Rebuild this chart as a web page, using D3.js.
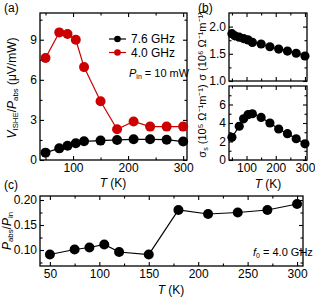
<!DOCTYPE html>
<html>
<head>
<meta charset="utf-8">
<script src="https://cdn.jsdelivr.net/npm/d3@7"></script>
<style>
  body { margin: 0; background: #fff; }
  text { font-family: "Liberation Sans", Arial, sans-serif; fill: #000; }
</style>
</head>
<body>
<svg id="fig" width="315" height="297"></svg>
<script>
// temperatures (K)
var temps = [50, 75, 90, 105, 120, 150, 180, 210, 240, 270, 300];
// (a) V_ISHE / P_abs (uV/mW)
var v76 = [0.55, 0.87, 1.07, 1.25, 1.4, 1.45, 1.5, 1.55, 1.55, 1.52, 1.38];
var v40 = [7.63, 9.55, 9.43, 9.0, 6.95, 4.4, 2.3, 2.88, 2.5, 2.5, 2.5];
// (b) conductivity
var sigmaT = [50, 60, 75, 90, 105, 120, 150, 180, 210, 240, 270, 300];
var sigma = [1.87, 1.83, 1.805, 1.78, 1.756, 1.71, 1.68, 1.63, 1.586, 1.55, 1.51, 1.46];
var sigmaS = [2.45, 3.65, 4.45, 4.9, 5.0, 4.6, 4.0, 3.35, 2.85, 2.3, 1.75];
// (c) P_abs / P_in
var pRatio = [0.091, 0.101, 0.105, 0.111, 0.096, 0.091, 0.180, 0.172, 0.175, 0.180, 0.192];

var svg = d3.select("#fig");
var red = "#cc0000";
var fs = 12;

function panel(o) {
	var x = d3.scaleLinear().domain(o.xd).range([o.x0, o.x1]);
	var y = d3.scaleLinear().domain(o.yd).range([o.y1, o.y0]);
	var g = svg.append("g");

	function ax(gen, scale, vals, size, labels, tr) {
		var a = gen(scale).tickValues(vals).tickSize(-size).tickPadding(3);
		if (!labels) a.tickFormat("");
		else a.tickFormat(o.fmt && gen === d3.axisLeft ? o.fmt : d3.format("d"));
		var s = g.append("g").attr("transform", tr).call(a);
		s.select(".domain").remove();
		s.selectAll("line").attr("stroke", "#000").attr("stroke-width", 1.1);
		s.selectAll("text").attr("font-size", fs).attr("fill", "#000")
			.style("font-family", "'Liberation Sans', Arial, sans-serif");
		return s;
	}
	// x ticks
	ax(d3.axisBottom, x, o.xMaj, 4, o.xLabels, "translate(0," + o.y1 + ")");
	ax(d3.axisBottom, x, o.xMin, 2.5, false, "translate(0," + o.y1 + ")");
	ax(d3.axisTop, x, o.xMaj, 4, false, "translate(0," + o.y0 + ")");
	ax(d3.axisTop, x, o.xMin, 2.5, false, "translate(0," + o.y0 + ")");
	// y ticks
	ax(d3.axisLeft, y, o.yMaj, 4, true, "translate(" + o.x0 + ",0)");
	ax(d3.axisLeft, y, o.yMin, 2.5, false, "translate(" + o.x0 + ",0)");
	ax(d3.axisRight, y, o.yMaj, 4, false, "translate(" + o.x1 + ",0)");
	ax(d3.axisRight, y, o.yMin, 2.5, false, "translate(" + o.x1 + ",0)");

	g.append("rect")
		.attr("x", o.x0).attr("y", o.y0)
		.attr("width", o.x1 - o.x0).attr("height", o.y1 - o.y0)
		.attr("fill", "none").attr("stroke", "#000").attr("stroke-width", 1.3);

	return { x: x, y: y, g: g };
}

function series(p, xs, ys, color, r) {
	var line = d3.line().x(function(d, i) { return p.x(xs[i]); }).y(function(d) { return p.y(d); });
	p.g.append("path").datum(ys)
		.attr("d", line).attr("fill", "none")
		.attr("stroke", color).attr("stroke-width", 1.2);
	p.g.selectAll(null).data(ys).enter().append("circle")
		.attr("cx", function(d, i) { return p.x(xs[i]); })
		.attr("cy", function(d) { return p.y(d); })
		.attr("r", r).attr("fill", color);
}

function label(x, y, rot, size, parts) {
	var t = svg.append("text").attr("font-size", size)
		.attr("text-anchor", "middle")
		.attr("transform", "translate(" + x + "," + y + ")" + (rot ? " rotate(-90)" : ""));
	parts.forEach(function(p) {
		var s = t.append("tspan").text(p[0]);
		if (p[1] === "i") s.attr("font-style", "italic");
		if (p[1] === "sub") s.attr("font-size", size * 0.65).attr("dy", 2);
		if (p[1] === "up") s.attr("dy", -2);
	});
	return t;
}

// ---- (a)
var pa = panel({
	x0: 40, x1: 187, y0: 13, y1: 160, xd: [40, 307], yd: [0, 11],
	xMaj: [100, 200, 300], xMin: [50, 150, 250], xLabels: true,
	yMaj: [0, 3, 6, 9], yMin: [1.5, 4.5, 7.5, 10.5]
});
series(pa, temps, v76, "#000", 5);
series(pa, temps, v40, red, 5);

// legend
var legend = [["7.6 GHz", "#000", 39], ["4.0 GHz", red, 52.5]];
legend.forEach(function(l) {
	svg.append("line").attr("x1", 109).attr("x2", 126).attr("y1", l[2]).attr("y2", l[2])
		.attr("stroke", l[1]).attr("stroke-width", 1.2);
	svg.append("circle").attr("cx", 117.5).attr("cy", l[2]).attr("r", 3.3).attr("fill", l[1]);
	svg.append("text").attr("x", 131).attr("y", l[2] + 4.3).attr("font-size", fs).text(l[0]);
});
var pin = svg.append("text").attr("x", 129).attr("y", 77).attr("font-size", 11);
pin.append("tspan").attr("font-style", "italic").text("P");
pin.append("tspan").attr("font-size", 7).attr("dy", 2).text("in");
pin.append("tspan").attr("dy", -2).text(" = 10 mW");

label(113, 187, false, fs, [["T", "i"], [" (K)"]]);
label(16, 88, true, fs, [["V", "i"], ["ISHE", "sub"], ["/", "up"], ["P", "i"], ["abs", "sub"], [" (\u03bcV/mW)", "up"]]);

// ---- (b)
var pb1 = panel({
	x0: 229, x1: 307, y0: 13, y1: 81, xd: [40, 307], yd: [1.0, 2.25],
	xMaj: [100, 200, 300], xMin: [50, 150, 250], xLabels: false,
	yMaj: [1.0, 1.5, 2.0], yMin: [1.25, 1.75], fmt: d3.format(".1f")
});
series(pb1, sigmaT, sigma, "#000", 4.6);

var pb2 = panel({
	x0: 229, x1: 307, y0: 86, y1: 160, xd: [40, 307], yd: [0, 8],
	xMaj: [100, 200, 300], xMin: [50, 150, 250], xLabels: true,
	yMaj: [0, 2, 4, 6], yMin: [1, 3, 5, 7]
});
series(pb2, temps, sigmaS, "#000", 4.6);

label(206, 46, true, 11, [["\u03c3 (10\u2076 \u03a9\u207b\u00b9m\u207b\u00b9)"]]);
label(206, 121, true, 11, [["\u03c3"], ["s", "sub"], [" (10\u2075 \u03a9\u207b\u00b9m\u207b\u00b9)", "up"]]);
label(268, 188, false, fs, [["T", "i"], [" (K)"]]);

// ---- (c)
var pc = panel({
	x0: 40, x1: 303, y0: 196, y1: 266, xd: [40, 306], yd: [0.068, 0.208],
	xMaj: [50, 100, 150, 200, 250, 300], xMin: [75, 125, 175, 225, 275], xLabels: true,
	yMaj: [0.10, 0.15, 0.20], yMin: [0.075, 0.125, 0.175], fmt: d3.format(".2f")
});
series(pc, temps, pRatio, "#000", 5);

var f0 = svg.append("text").attr("x", 253).attr("y", 256).attr("font-size", 11);
f0.append("tspan").attr("font-style", "italic").text("f");
f0.append("tspan").attr("font-size", 7).attr("dy", 2).text("0");
f0.append("tspan").attr("dy", -2).text(" = 4.0 GHz");

label(171, 294, false, fs, [["T", "i"], [" (K)"]]);
label(11, 231, true, fs, [["P", "i"], ["abs", "sub"], ["/", "up"], ["P", "i"], ["in", "sub"]]);

// panel letters
[["(a)", 4, 12], ["(b)", 198, 12], ["(c)", 4, 189]].forEach(function(l) {
	svg.append("text").attr("x", l[1]).attr("y", l[2]).attr("font-size", fs).text(l[0]);
});
</script>
</body>
</html>
